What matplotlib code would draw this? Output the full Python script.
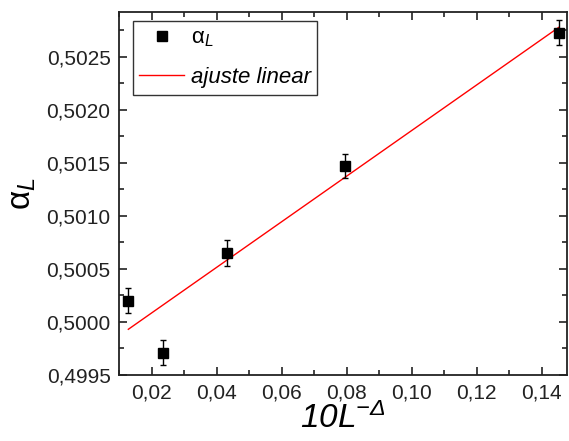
import numpy as np
import matplotlib
matplotlib.use('Agg')
import matplotlib.pyplot as plt
from matplotlib.ticker import MultipleLocator, FuncFormatter

plt.rcParams['font.family'] = ['Liberation Sans', 'DejaVu Sans']
plt.rcParams['mathtext.fontset'] = 'custom'
plt.rcParams['mathtext.rm'] = 'Liberation Sans:italic'
plt.rcParams['mathtext.it'] = 'Liberation Sans:italic'

# data
x_vals = [0.0128, 0.0236, 0.0432, 0.0794, 0.1453]
alpha_vals = [0.50020, 0.49971, 0.50065, 0.50147, 0.50273]
alpha_err = [0.000115, 0.000120, 0.000120, 0.000115, 0.000120]

# linear fit end points
fit_x = [0.0128, 0.1453]
fit_y = [0.49993, 0.50278]

fig = plt.figure(figsize=(5.69, 4.41), dpi=100)
ax = fig.add_axes([0.209, 0.150, 0.7875, 0.823])

ax.errorbar(x_vals, alpha_vals, yerr=alpha_err, fmt='none', ecolor='black',
            capsize=2.5, elinewidth=1, capthick=1, zorder=3)
pts, = ax.plot(x_vals, alpha_vals, 's', color='black', markersize=6.5,
               label=r'α$_{L}$', zorder=4)
fit, = ax.plot(fit_x, fit_y, color='red', linewidth=1, label='ajuste linear', zorder=2)

ax.set_xlim(0.0099, 0.1478)
ax.set_ylim(0.4995, 0.502925)

ax.xaxis.set_major_locator(MultipleLocator(0.02))
ax.xaxis.set_minor_locator(MultipleLocator(0.01))
ax.yaxis.set_major_locator(MultipleLocator(0.0005))
ax.yaxis.set_minor_locator(MultipleLocator(0.00025))
ax.xaxis.set_major_formatter(FuncFormatter(lambda v, p: f'{v:.2f}'.replace('.', ',')))
ax.yaxis.set_major_formatter(FuncFormatter(lambda v, p: f'{v:.4f}'.replace('.', ',')))

ax.tick_params(which='both', direction='in', top=True, right=True, width=1.2,
               labelsize=15, pad=6, colors='#222222')
ax.tick_params(which='major', length=6)
ax.tick_params(which='minor', length=3.5)
for s in ax.spines.values():
    s.set_linewidth(1.3)
    s.set_color('#222222')

ax.set_xlabel(r'10L$^{-Δ}$', fontsize=24, fontstyle='italic', labelpad=0)
ax.set_ylabel('α$_{L}$', fontsize=24, labelpad=6)

leg = ax.legend(handles=[pts, fit], loc='upper left', bbox_to_anchor=(0.031, 0.975),
                borderaxespad=0, fontsize=16, frameon=True, fancybox=False,
                handlelength=2.0, handletextpad=0.3, borderpad=0.3,
                labelspacing=0.8)
leg.get_frame().set_edgecolor('black')
leg.get_frame().set_linewidth(1.0)
leg.get_texts()[1].set_fontstyle('italic')

fig.savefig('out.png', dpi=100)
